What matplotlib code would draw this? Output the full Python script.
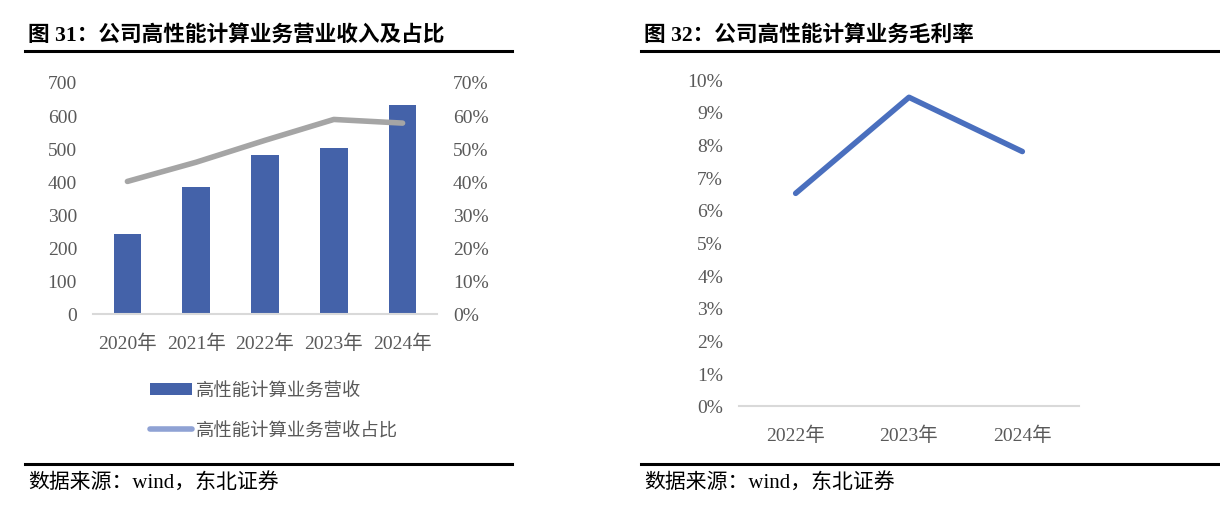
import matplotlib
matplotlib.use("Agg")
import matplotlib.pyplot as plt
from matplotlib.patches import Patch
from matplotlib.lines import Line2D
from matplotlib.ticker import FuncFormatter

plt.rcParams['font.family'] = ['Liberation Serif', 'Noto Sans CJK SC']

# data
years_rev = ['2020年', '2021年', '2022年', '2023年', '2024年']
hpc_revenue = [242, 382, 481, 500, 632]
hpc_share = [0.400, 0.458, 0.524, 0.587, 0.576]

years_gm = ['2022年', '2023年', '2024年']
hpc_gross_margin = [0.065, 0.0944, 0.0778]

title_left = '图 31：公司高性能计算业务营业收入及占比'
title_right = '图 32：公司高性能计算业务毛利率'
source = '数据来源：wind，东北证券'
legend_labels = ['高性能计算业务营收', '高性能计算业务营收占比']

W, H = 1220, 506
fig = plt.figure(figsize=(W / 100, H / 100), dpi=100)

tick_color = '#595959'
bar_color = '#4462A9'
share_color = '#A5A5A5'
gm_color = '#4A6FBE'
axis_color = '#D9D9D9'


def fx(px):
    return px / W


def fy(py):
    return 1 - py / H


def style_axis(ax):
    for s in ['top', 'right', 'left']:
        ax.spines[s].set_visible(False)
    ax.spines['bottom'].set_color(axis_color)
    ax.spines['bottom'].set_linewidth(1.5)
    ax.tick_params(length=0, colors=tick_color, labelsize=14)
    ax.tick_params(axis='y', pad=11.5)
    ax.tick_params(axis='x', pad=14)


# left chart
ax1 = fig.add_axes([fx(93), fy(315), fx(344), 232 / H])
x = list(range(len(years_rev)))
ax1.bar(x, hpc_revenue, width=0.4, color=bar_color, zorder=2)
ax1.set_ylim(0, 700)
ax1.set_yticks(range(0, 701, 100))
ax1.set_xlim(-0.5, len(years_rev) - 0.5)
ax1.set_xticks(x)
ax1.set_xticklabels(years_rev)
style_axis(ax1)

ax1b = ax1.twinx()
ax1b.plot(x, hpc_share, color=share_color, lw=4, solid_capstyle='round', zorder=3)
ax1b.set_ylim(0, 0.7)
ax1b.set_yticks([i / 10 for i in range(8)])
ax1b.yaxis.set_major_formatter(FuncFormatter(lambda v, p: f'{v * 100:.0f}%'))
for s in ax1b.spines.values():
    s.set_visible(False)
ax1b.tick_params(length=0, colors=tick_color, labelsize=14, pad=11.5)

handles = [Patch(facecolor=bar_color),
           Line2D([0], [0], color='#8FA2D4', lw=4, solid_capstyle='round')]
fig.legend(handles, legend_labels, loc='upper left', bbox_to_anchor=(fx(133), fy(366)),
           frameon=False, handlelength=2.3, handleheight=0.6, handletextpad=0.25,
           labelspacing=1.2, prop={'family': 'Noto Sans CJK SC', 'size': 13.2},
           labelcolor=tick_color)

# right chart
ax2 = fig.add_axes([fx(739), fy(406.7), fx(340), 326.7 / H])
x2 = list(range(len(years_gm)))
ax2.plot(x2, hpc_gross_margin, color=gm_color, lw=4, solid_capstyle='round')
ax2.set_ylim(0, 0.1)
ax2.set_yticks([i / 100 for i in range(11)])
ax2.yaxis.set_major_formatter(FuncFormatter(lambda v, p: f'{v * 100:.0f}%'))
ax2.set_xlim(-0.5, len(years_gm) - 0.5)
ax2.set_xticks(x2)
ax2.set_xticklabels(years_gm)
style_axis(ax2)

# titles, rules, sources
for x0, x1, title in [(25, 512, title_left), (641, 1220, title_right)]:
    fig.text(fx(x0 + 3), fy(35), title, fontsize=15.6, fontweight='bold',
             color='black', va='center', ha='left')
    fig.add_artist(Line2D([fx(x0), fx(x1)], [fy(52), fy(52)], color='black', lw=2.2))
    fig.add_artist(Line2D([fx(x0), fx(x1)], [fy(465), fy(465)], color='black', lw=2.2))
    fig.text(fx(x0 + 3), fy(483), source, fontsize=15, color='black',
             va='center', ha='left')

fig.savefig('out.png', dpi=100)
